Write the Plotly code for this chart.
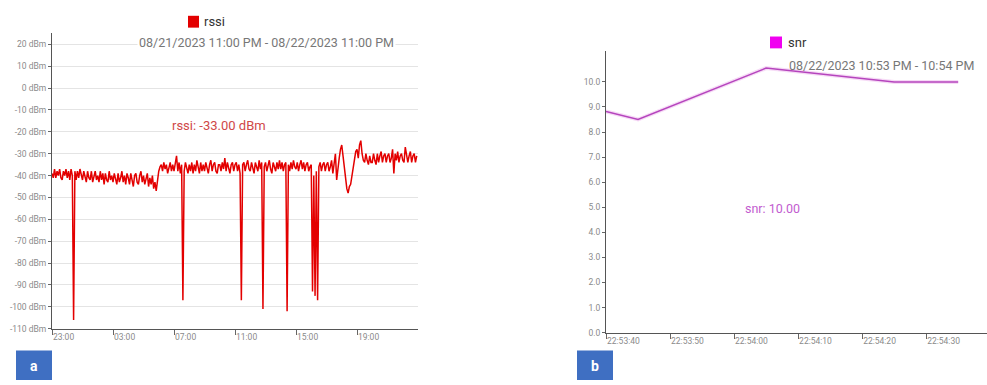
import pandas as pd
import plotly.graph_objects as go

# ---------------- data ----------------
rssi_start = "2023-08-21 23:00"
rssi_step = "5min"
rssi_values = [
    -39, -41, -37, -41, -38, -40, -37, -41, -42, -38, -40, -37,
    -41, -38, -42, -37, -40, -106, -38, -42, -38, -41, -37, -40,
    -42, -38, -40, -43, -38, -41, -42, -38, -43, -40, -38, -42,
    -40, -43, -38, -42, -39, -44, -39, -42, -43, -38, -42, -40,
    -43, -39, -42, -44, -39, -43, -41, -38, -43, -40, -44, -39,
    -41, -44, -39, -43, -45, -40, -39, -43, -44, -40, -38, -43,
    -40, -44, -42, -39, -45, -41, -44, -40, -46, -43, -47, -41,
    -38, -36, -35, -38, -34, -37, -35, -39, -36, -34, -38, -35,
    -38, -35, -31, -38, -34, -39, -35, -97, -38, -34, -36, -39,
    -35, -38, -34, -39, -35, -38, -33, -36, -39, -34, -38, -35,
    -38, -34, -36, -39, -35, -33, -38, -35, -34, -38, -39, -35,
    -35, -38, -34, -37, -32, -38, -34, -36, -39, -35, -34, -38,
    -35, -34, -38, -35, -39, -97, -35, -34, -38, -35, -33, -37,
    -38, -34, -36, -39, -34, -36, -38, -33, -37, -34, -101, -36,
    -34, -38, -35, -33, -37, -39, -34, -36, -38, -34, -37, -33,
    -37, -34, -38, -35, -34, -102, -35, -38, -34, -37, -33, -36,
    -37, -34, -38, -35, -33, -37, -34, -38, -35, -34, -38, -36,
    -35, -93, -40, -95, -38, -97, -36, -34, -38, -35, -34, -38,
    -35, -34, -38, -36, -33, -39, -34, -30, -42, -36, -32, -28,
    -26, -31, -37, -43, -46, -48, -45, -44, -40, -35, -32, -29,
    -28, -32, -26, -24, -30, -33, -34, -30, -33, -35, -31, -34,
    -34, -30, -33, -35, -30, -34, -31, -29, -34, -31, -30, -34,
    -31, -30, -34, -32, -28, -39, -30, -33, -29, -34, -31, -30,
    -33, -34, -27, -30, -34, -31, -29, -34, -31, -30, -34, -31,
]
rssi_ticks = [-110, -100, -90, -80, -70, -60, -50, -40, -30, -20, -10, 0, 10, 20]
rssi_tick_labels = [f"{v} dBm" for v in rssi_ticks]
rssi_xticks = ["2023-08-21 23:00", "2023-08-22 03:00", "2023-08-22 07:00",
               "2023-08-22 11:00", "2023-08-22 15:00", "2023-08-22 19:00"]
rssi_xtick_labels = ["23:00", "03:00", "07:00", "11:00", "15:00", "19:00"]

snr_times = ["2023-08-22 22:53:40", "2023-08-22 22:53:45", "2023-08-22 22:54:05",
             "2023-08-22 22:54:25", "2023-08-22 22:54:35"]
snr_values = [8.82, 8.5, 10.55, 10.0, 10.0]
snr_ticks = [0, 1, 2, 3, 4, 5, 6, 7, 8, 9, 10]
snr_xticks = ["2023-08-22 22:53:40", "2023-08-22 22:53:50", "2023-08-22 22:54:00",
              "2023-08-22 22:54:10", "2023-08-22 22:54:20", "2023-08-22 22:54:30"]
snr_xtick_labels = ["22:53:40", "22:53:50", "22:54:00", "22:54:10", "22:54:20", "22:54:30"]

rssi_times = pd.date_range(rssi_start, periods=len(rssi_values), freq=rssi_step)

# ---------------- figure ----------------
W, H = 987, 385
def px(x):
    return x / W
def py(y):
    return 1 - y / H

FONT = "Roboto, Arial, sans-serif"
tickfont = dict(family=FONT, size=8.5, color="#8a8a8a")

fig = go.Figure()

fig.add_trace(go.Scatter(x=rssi_times, y=rssi_values, mode="lines",
                         line=dict(color="#e30000", width=1.5),
                         xaxis="x", yaxis="y", showlegend=False))

fig.add_trace(go.Scatter(x=snr_times, y=snr_values, mode="lines",
                         line=dict(color="rgba(230,150,230,0.35)", width=4),
                         xaxis="x2", yaxis="y2", showlegend=False, hoverinfo="skip"))
fig.add_trace(go.Scatter(x=snr_times, y=snr_values, mode="lines",
                         line=dict(color="#b545bd", width=1.5),
                         xaxis="x2", yaxis="y2", showlegend=False))

axis_common = dict(showline=True, linecolor="#555", linewidth=1, ticks="outside",
                   tickcolor="#666", zeroline=False, tickfont=tickfont)

fig.update_layout(
    width=W, height=H,
    margin=dict(l=0, r=0, t=0, b=0),
    paper_bgcolor="white", plot_bgcolor="white",
    font=dict(family=FONT),
    showlegend=False,
    xaxis=dict(domain=[px(52), px(418)], type="date",
               range=["2023-08-21 23:00", "2023-08-22 23:00"],
               tickvals=rssi_xticks, ticktext=rssi_xtick_labels,
               ticklen=5, ticklabelposition="outside right", showgrid=False,
               anchor="y", **axis_common),
    yaxis=dict(domain=[py(333), py(33)], range=[-110, 25.4],
               tickvals=rssi_ticks, ticktext=rssi_tick_labels, ticklen=3,
               showgrid=True, gridcolor="#e4e4e4", gridwidth=1,
               anchor="x", **axis_common),
    xaxis2=dict(domain=[px(606), 1.0], type="date",
                range=["2023-08-22 22:53:40", "2023-08-22 22:54:39.5"],
                tickvals=snr_xticks, ticktext=snr_xtick_labels,
                ticklen=5, ticklabelposition="outside right", showgrid=False,
                anchor="y2", **axis_common),
    yaxis2=dict(domain=[py(337), py(52)], range=[0, 11.22],
                tickvals=snr_ticks, tickformat=".1f", ticklen=3, showgrid=False,
                anchor="x2", **axis_common),
)

annotations = [
    dict(text="08/21/2023 11:00 PM - 08/22/2023 11:00 PM", x=px(266), y=py(43),
         font=dict(size=12.5, color="#777"), bgcolor="white"),
    dict(text="rssi: -33.00 dBm", x=px(219), y=py(127),
         font=dict(size=13, color="#d04848"), bgcolor="white"),
    dict(text="08/22/2023 10:53 PM - 10:54 PM", x=px(881), y=py(66),
         font=dict(size=12.5, color="#777")),
    dict(text="snr: 10.00", x=px(772), y=py(211),
         font=dict(size=12.5, color="#c25ccf")),
    dict(text="rssi", x=px(202), y=py(22), xanchor="left",
         font=dict(size=13, color="#333")),
    dict(text="snr", x=px(786), y=py(43), xanchor="left",
         font=dict(size=13, color="#333")),
    dict(text="<b>a</b>", x=px(34), y=py(371), font=dict(size=14, color="white")),
    dict(text="<b>b</b>", x=px(595), y=py(371), font=dict(size=14, color="white")),
]
for a in annotations:
    a.setdefault("xanchor", "center")
    a.update(xref="paper", yref="paper", showarrow=False, yanchor="middle")
    a["font"]["family"] = FONT
fig.update_layout(annotations=annotations)

fig.update_layout(shapes=[
    dict(type="rect", xref="paper", yref="paper", x0=px(188), x1=px(199), y0=py(28), y1=py(16),
         fillcolor="#e30000", line=dict(width=0)),
    dict(type="rect", xref="paper", yref="paper", x0=px(770), x1=px(782), y0=py(49), y1=py(37),
         fillcolor="#f000f0", line=dict(width=0)),
    dict(type="rect", xref="paper", yref="paper", x0=px(16), x1=px(52), y0=0, y1=py(355),
         fillcolor="#3f6fc2", line=dict(width=0), layer="below"),
    dict(type="rect", xref="paper", yref="paper", x0=px(577), x1=px(613), y0=0, y1=py(355),
         fillcolor="#3f6fc2", line=dict(width=0), layer="below"),
])

fig.write_html("out.html",
               config={"displayModeBar": False},
               post_script="document.body.style.margin='0';document.body.style.overflow='hidden';")
